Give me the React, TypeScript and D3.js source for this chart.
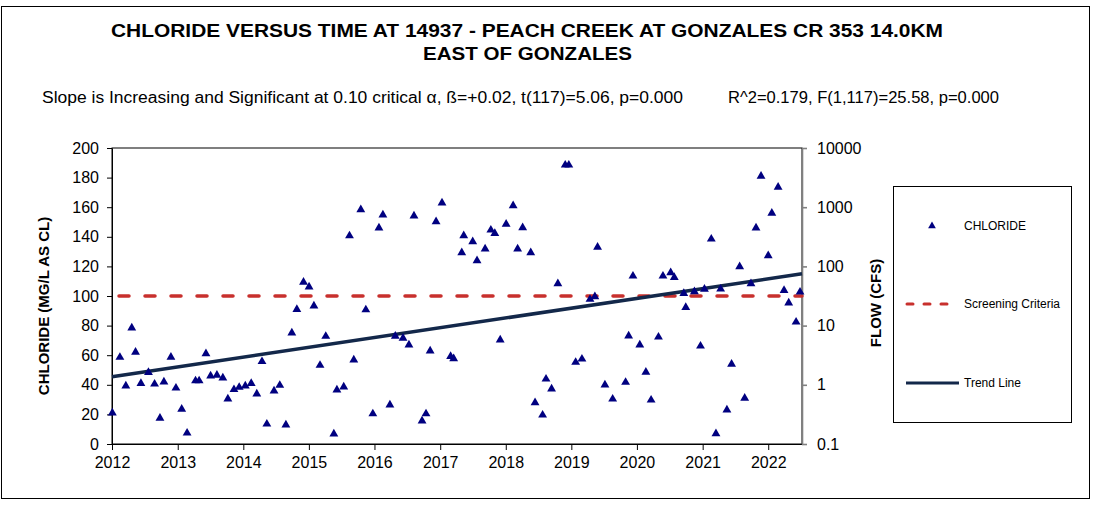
import * as d3 from 'd3';
import { useRef, useEffect } from 'react';

// sample dates and chloride results (mg/L)
const sampleDates = [
    '2012-01-03', '2012-02-14', '2012-03-18', '2012-04-20', '2012-05-11', '2012-06-10', '2012-07-22', '2012-08-25',
    '2012-09-24', '2012-10-16', '2012-11-24', '2012-12-22', '2013-01-23', '2013-02-22', '2013-04-10', '2013-04-30',
    '2013-06-07', '2013-07-03', '2013-08-07', '2013-09-09', '2013-10-07', '2013-11-10', '2013-12-09', '2014-01-12',
    '2014-02-14', '2014-03-17', '2014-04-15', '2014-05-12', '2014-06-21', '2014-07-23', '2014-08-26', '2014-09-28',
    '2014-10-26', '2014-12-02', '2015-01-02', '2015-01-29', '2015-03-04', '2015-04-05', '2015-05-20', '2015-06-06',
    '2015-07-14', '2015-08-15', '2015-09-08', '2015-10-17', '2015-11-14', '2015-12-23', '2016-01-26', '2016-02-17',
    '2016-03-27', '2016-04-26', '2016-06-08', '2016-07-11', '2016-08-08', '2016-09-22', '2016-10-14', '2016-11-06',
    '2016-12-09', '2017-01-11', '2017-02-28', '2017-03-17', '2017-05-01', '2017-05-12', '2017-07-01', '2017-07-25',
    '2017-09-08', '2017-10-10', '2017-11-01', '2017-12-01', '2018-01-03', '2018-02-11', '2018-03-08', '2018-04-05',
    '2018-05-20', '2018-06-13', '2018-07-25', '2018-08-13', '2018-09-13', '2018-10-18', '2018-11-28', '2018-12-18',
    '2019-01-25', '2019-03-01', '2019-04-15', '2019-05-12', '2019-05-27', '2019-07-07', '2019-08-19', '2019-10-30',
    '2019-11-16', '2019-12-10', '2020-01-17', '2020-02-20', '2020-03-20', '2020-04-30', '2020-05-25', '2020-07-07',
    '2020-07-27', '2020-09-18', '2020-09-29', '2020-11-16', '2020-12-20', '2021-01-11', '2021-02-18', '2021-03-16',
    '2021-04-11', '2021-05-16', '2021-06-11', '2021-07-26', '2021-08-23', '2021-09-27', '2021-10-25', '2021-11-22',
    '2022-01-01', '2022-01-21', '2022-02-25', '2022-03-30', '2022-04-25', '2022-06-05', '2022-06-27',
];

const chloride = [
    21, 58.6, 39.3, 78.5, 62, 41, 48.4, 40.5,
    17.5, 42, 58.7, 37.8, 23.6, 7.4, 42.7, 42.7,
    61, 46, 46.5, 44.7, 30.5, 36.8, 38.3, 39.2,
    41, 33.8, 55.7, 13.5, 35.9, 39.7, 12.9, 75.1,
    91, 109.4, 106.2, 93.3, 53.2, 72.8, 6.8, 36.5,
    38.6, 140.7, 56.8, 158.3, 90.7, 20.4, 146, 154.8,
    26.4, 72.9, 71.5, 67, 154.1, 15.6, 20.4, 62.9,
    150.2, 162.9, 59.2, 57.7, 129.3, 140.8, 136.7, 123.9,
    131.8, 144.6, 142.3, 70.3, 148.6, 161, 131.8, 146.2,
    129.3, 27.9, 19.6, 43.9, 37.2, 108.3, 188.5, 188.5,
    55.2, 57.4, 97.8, 99.5, 133, 39.9, 30.4, 41.7,
    73, 113.5, 66.9, 48.6, 29.7, 72.3, 113.5, 115.8,
    112.6, 101.8, 92.3, 102.9, 66.2, 104.6, 138.5, 7,
    104.7, 23, 54, 119.8, 31, 108.3, 146, 181,
    127.3, 156, 173.6, 103.8, 95.3, 82.4, 102.7,
];

const screeningCriteria = 100;
const trendDates = ['2012-01-01', '2022-07-08'];
const trendValues = [45.5, 115];

const chlorideTicks = [0, 20, 40, 60, 80, 100, 120, 140, 160, 180, 200];
const flowTicks = [0.1, 1, 10, 100, 1000, 10000];
const yearTicks = [2012, 2013, 2014, 2015, 2016, 2017, 2018, 2019, 2020, 2021, 2022];

const FONT = 'Liberation Sans, Arial, sans-serif';

export default function App() {
    const svgRef = useRef<SVGSVGElement>(null);

    useEffect(() => {
        if (!svgRef.current) return;
        const svg = d3.select(svgRef.current);
        svg.selectAll('*').remove();

        const left = 112, right = 802, top = 148, bottom = 444;
        const parse = d3.timeParse('%Y-%m-%d');

        const x = d3.scaleTime()
            .domain([parse('2012-01-01')!, parse('2022-07-08')!])
            .range([left, right]);
        const y = d3.scaleLinear().domain([0, 200]).range([bottom, top]);
        const yFlow = d3.scaleLog().domain([0.1, 10000]).range([bottom, top]);

        // outer frame
        svg.append('rect')
            .attr('x', 1.5).attr('y', 6.5).attr('width', 1088).attr('height', 492)
            .attr('fill', 'white').attr('stroke', 'black').attr('stroke-width', 1);

        // titles (the original text is drawn a bit wider than Arial, so stretch it)
        const addText = (tx: number, ty: number, size: number, bold: boolean, len: number, str: string) =>
            svg.append('text')
                .attr('x', tx).attr('y', ty)
                .attr('font-family', FONT).attr('font-size', size)
                .attr('font-weight', bold ? 'bold' : 'normal')
                .attr('textLength', len).attr('lengthAdjust', 'spacingAndGlyphs')
                .text(str);

        addText(111, 37, 19, true, 832, 'CHLORIDE VERSUS TIME AT 14937 - PEACH CREEK AT GONZALES CR 353 14.0KM');
        addText(423, 60, 19, true, 209, 'EAST OF GONZALES');
        addText(42, 103, 16, false, 641,
            'Slope is Increasing and Significant at 0.10 critical \u03B1, \u00DF=+0.02, t(117)=5.06, p=0.000');
        addText(728, 103, 16, false, 271, 'R^2=0.179,  F(1,117)=25.58, p=0.000');

        // plot area border
        svg.append('rect')
            .attr('x', left).attr('y', top).attr('width', right - left).attr('height', bottom - top)
            .attr('fill', 'none').attr('stroke', 'black').attr('stroke-width', 1);

        const styleAxis = (g: d3.Selection<SVGGElement, unknown, null, undefined>, color: string) => {
            g.select('.domain').attr('stroke', color).attr('stroke-width', color === 'black' ? 1 : 1.6);
            g.selectAll('.tick line').attr('stroke', color).attr('stroke-width', color === 'black' ? 1 : 1.6);
            g.selectAll('.tick text').attr('fill', 'black');
            g.attr('font-family', FONT).attr('font-size', 16);
        };

        // left axis
        const gLeft = svg.append('g')
            .attr('transform', `translate(${left},0)`)
            .call(d3.axisLeft(y).tickValues(chlorideTicks).tickSize(5).tickSizeOuter(0).tickPadding(8));
        styleAxis(gLeft, 'black');

        // bottom axis
        const gBottom = svg.append('g')
            .attr('transform', `translate(0,${bottom})`)
            .call(d3.axisBottom(x)
                .tickValues(yearTicks.map(yr => new Date(yr, 0, 1)))
                .tickFormat(d => d3.timeFormat('%Y')(d as Date))
                .tickSize(6).tickSizeOuter(0).tickPadding(7));
        styleAxis(gBottom, 'black');

        // right (flow) axis
        const gRight = svg.append('g')
            .attr('transform', `translate(${right},0)`)
            .call(d3.axisRight(yFlow).tickValues(flowTicks)
                .tickFormat(d => String(d))
                .tickSize(5).tickSizeOuter(0).tickPadding(10));
        styleAxis(gRight, '#808080');

        // axis titles
        svg.append('text')
            .attr('transform', 'translate(49,306) rotate(-90)')
            .attr('text-anchor', 'middle')
            .attr('font-family', FONT).attr('font-weight', 'bold').attr('font-size', 15)
            .text('CHLORIDE (MG/L AS CL)');
        svg.append('text')
            .attr('transform', 'translate(881,303) rotate(-90)')
            .attr('text-anchor', 'middle')
            .attr('font-family', FONT).attr('font-weight', 'bold').attr('font-size', 15)
            .text('FLOW (CFS)');

        // screening criteria
        svg.append('line')
            .attr('x1', left + 7).attr('x2', right)
            .attr('y1', y(screeningCriteria)).attr('y2', y(screeningCriteria))
            .attr('stroke', '#C8302D').attr('stroke-width', 3.5)
            .attr('stroke-linecap', 'round')
            .attr('stroke-dasharray', '10,16');

        // trend line
        const trend = d3.line<number>()
            .x((_, i) => x(parse(trendDates[i])!))
            .y(d => y(d));
        svg.append('path')
            .attr('d', trend(trendValues))
            .attr('fill', 'none').attr('stroke', '#13284A').attr('stroke-width', 3.5);

        // chloride points
        const tri = d3.symbol().type(d3.symbolTriangle).size(34);
        svg.append('g')
            .selectAll('path')
            .data(chloride)
            .enter()
            .append('path')
            .attr('d', tri)
            .attr('transform', (d, i) => `translate(${x(parse(sampleDates[i])!)},${y(d)})`)
            .attr('fill', '#000080');

        // legend
        const lg = svg.append('g');
        lg.append('rect')
            .attr('x', 893.5).attr('y', 186.5).attr('width', 178).attr('height', 236)
            .attr('fill', 'white').attr('stroke', 'black').attr('stroke-width', 1);
        lg.append('path').attr('d', d3.symbol().type(d3.symbolTriangle).size(26)())
            .attr('transform', 'translate(932,226)').attr('fill', '#000080');
        lg.append('line').attr('x1', 907).attr('x2', 957).attr('y1', 304).attr('y2', 304)
            .attr('stroke', '#C8302D').attr('stroke-width', 3)
            .attr('stroke-linecap', 'round').attr('stroke-dasharray', '6,11');
        lg.append('line').attr('x1', 906).attr('x2', 959).attr('y1', 383).attr('y2', 383)
            .attr('stroke', '#13284A').attr('stroke-width', 3);
        const lgText = [['CHLORIDE', 226], ['Screening Criteria', 304], ['Trend Line', 383]] as const;
        lgText.forEach(([t, yy]) => {
            lg.append('text').attr('x', 964).attr('y', yy).attr('dy', '0.35em')
                .attr('font-family', FONT).attr('font-size', 12).text(t);
        });
    }, []);

    return (
        <svg ref={svgRef} width={1094} height={515}
            style={{ position: 'absolute', left: 0, top: 0, background: 'white' }} />
    );
}
